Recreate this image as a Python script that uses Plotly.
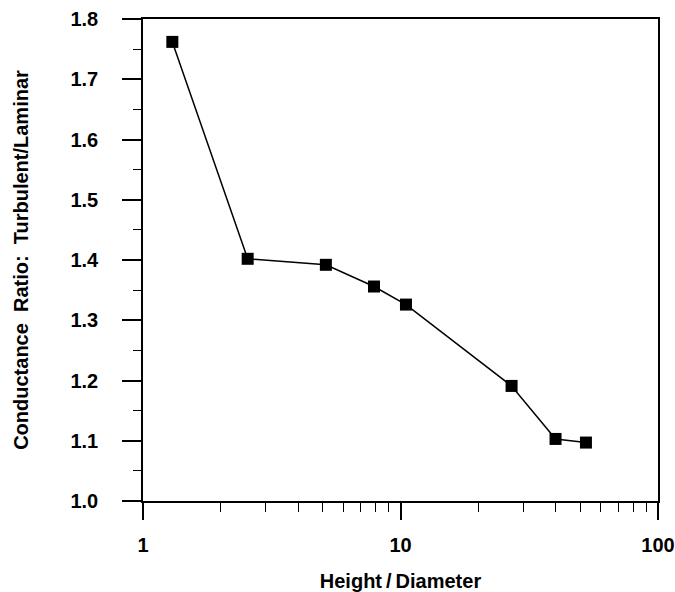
import plotly.graph_objects as go

# Height/Diameter ratio and the turbulent-to-laminar conductance ratio
height_diameter = [1.30, 2.55, 5.13, 7.89, 10.5, 27.0, 40.0, 52.5]
conductance_ratio = [1.762, 1.402, 1.392, 1.356, 1.326, 1.191, 1.103, 1.097]

x_tick_values = [1, 10, 100]
x_tick_labels = ["1", "10", "100"]
y_tick_values = [1.0, 1.1, 1.2, 1.3, 1.4, 1.5, 1.6, 1.7, 1.8]

font_family = "Liberation Sans, Arial, sans-serif"
narrow_family = "Liberation Sans Narrow, Arial Narrow, Liberation Sans, sans-serif"

fig = go.Figure()
fig.add_trace(go.Scatter(
    x=height_diameter,
    y=conductance_ratio,
    mode="lines+markers",
    line=dict(color="black", width=1.5),
    marker=dict(symbol="square", size=12, color="black"),
    showlegend=False,
))

fig.update_layout(
    width=675,
    height=592,
    margin=dict(l=143, r=17, t=19, b=91),
    paper_bgcolor="white",
    plot_bgcolor="white",
    font=dict(family=font_family, color="black"),
)

fig.update_xaxes(
    type="log",
    range=[0, 2],
    tickvals=x_tick_values,
    ticktext=x_tick_labels,
    ticks="outside",
    ticklen=17,
    tickwidth=1.5,
    tickcolor="black",
    minor=dict(ticks="outside", ticklen=9, tickwidth=1, tickcolor="black", dtick="D1"),
    showline=True,
    linecolor="black",
    linewidth=1.5,
    mirror=True,
    showgrid=False,
    zeroline=False,
    automargin=False,
    ticklabeloverflow="allow",
    tickfont=dict(size=20, family=narrow_family, weight="bold"),
    ticklabelstandoff=8,
    title=dict(text="<b>Height\u2009/\u2009Diameter</b>", font=dict(size=20, family=font_family), standoff=20),
)

fig.update_yaxes(
    range=[1.0, 1.8],
    tickvals=y_tick_values,
    tickformat=".1f",
    ticks="outside",
    ticklen=19,
    tickwidth=1.5,
    tickcolor="black",
    minor=dict(ticks="outside", ticklen=8, tickwidth=1, tickcolor="black", dtick=0.05),
    showline=True,
    linecolor="black",
    linewidth=1.5,
    mirror=True,
    showgrid=False,
    zeroline=False,
    automargin=False,
    ticklabeloverflow="allow",
    tickfont=dict(size=20, family=font_family, weight="bold"),
    ticklabelstandoff=20,
    title=dict(text="<b>Conductance  Ratio:  Turbulent/Laminar</b>", font=dict(size=20), standoff=36),
)

fig.write_html("out.html")
